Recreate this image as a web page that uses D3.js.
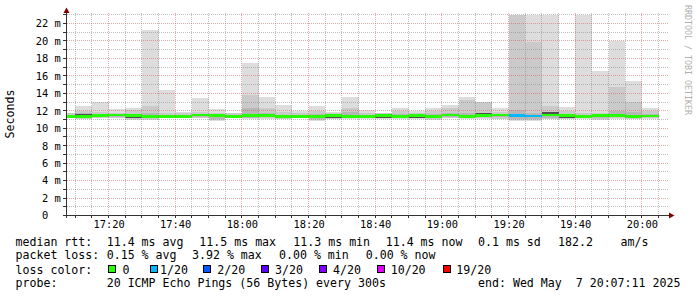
<!DOCTYPE html>
<html><head><meta charset="utf-8">
<script src="https://cdn.jsdelivr.net/npm/d3@7"></script>
<style>
html,body{margin:0;padding:0;background:#fff;}
svg{display:block;}
text{font-family:"DejaVu Sans Mono",monospace;fill:#000;}
</style></head><body>
<script>
// ---- data (5-minute SmokePing slots, values in ms) ----
const slotLabels = ["17:05","17:10","17:15","17:20","17:25","17:30","17:35","17:40","17:45","17:50","17:55","18:00","18:05","18:10","18:15","18:20","18:25","18:30","18:35","18:40","18:45","18:50","18:55","19:00","19:05","19:10","19:15","19:20","19:25","19:30","19:35","19:40","19:45","19:50","19:55","20:00"];
const rttMedian = [11.38,11.38,11.48,11.52,11.44,11.38,11.36,11.37,11.52,11.43, 11.38,11.43,11.42,11.38,11.37,11.38,11.43,11.35,11.38,11.43, 11.35,11.45,11.38,11.52,11.39,11.43,11.52,11.43,11.40,11.52, 11.43,11.38,11.42,11.43,11.35,11.40];
const rttMax    = [11.80,12.55,13.00,12.20,12.35,21.27,14.43,11.85,13.50,12.25, 11.80,17.49,13.55,12.66,11.95,12.55,11.90,13.60,12.10,11.80, 12.35,11.95,12.35,12.66,13.55,13.05,12.35,26.80,24.90,25.60, 12.44,24.10,16.60,20.00,15.42,12.36];
const rttHi     = [11.70,11.98,11.83,11.80,12.05,12.55,11.80,11.70,11.85,11.80, 11.70,13.80,12.36,11.90,11.75,11.95,11.80,12.36,11.80,11.70, 11.95,11.75,11.95,12.30,13.20,12.95,11.85,25.30,19.90,12.55, 11.95,11.75,11.80,14.77,13.00,11.95];
const rttUpper  = [11.50,11.70,11.60,11.62,11.60,11.70,11.55,11.50,11.65,11.55, 11.50,12.30,11.70,11.55,11.50,11.60,11.55,11.90,11.55,11.55, 11.60,11.55,11.60,11.70,11.80,11.75,11.65,12.10,11.70,11.85, 11.60,11.50,11.55,11.95,11.85,11.60];
const coreHi    = [11.46,11.62,11.56,11.60,11.52,11.46,11.57,11.56,11.60,11.51, 11.46,11.68,11.50,11.46,11.45,11.46,11.51,11.56,11.46,11.51, 11.56,11.53,11.46,11.60,11.47,11.71,11.60,11.51,11.48,11.82, 11.51,11.46,11.50,11.51,11.56,11.48];
const coreLo    = [11.30,11.30,11.40,11.44,11.21,11.30,11.28,11.29,11.44,11.35, 11.30,11.35,11.34,11.30,11.29,11.30,11.21,11.27,11.30,11.21, 11.27,11.23,11.16,11.44,11.31,11.35,11.44,11.35,11.32,11.44, 11.21,11.30,11.34,11.35,11.27,11.32];
const rttLower  = [11.26,11.20,11.28,11.30,11.16,11.14,11.24,11.25,11.30,11.10, 11.26,11.22,11.24,11.20,11.26,11.10,11.16,11.20,11.22,11.18, 11.22,11.20,11.12,11.30,11.24,11.26,11.24,11.10,11.10,11.22, 11.16,11.24,11.14,11.24,11.18,11.24];
const rttLo     = [11.20,11.10,11.20,11.20,11.04,11.02,11.20,11.20,11.20,10.97, 11.20,11.14,11.17,11.10,11.20,10.97,11.10,11.14,11.14,11.12, 11.17,11.14,11.06,11.20,11.17,11.17,11.10,10.97,10.97,11.10, 11.10,11.17,11.04,11.17,11.10,11.17];
const rttMin    = [11.14,11.02,11.14,11.14,10.94,10.94,11.14,11.14,11.14,10.87, 11.14,11.06,11.10,11.02,11.14,10.87,11.04,11.06,11.06,11.06, 11.10,11.08,11.00,11.14,11.10,11.10,11.02,10.87,10.87,11.02, 11.04,11.10,10.94,11.10,11.02,11.10];
const lossCount = [0,0,0,0,0,0,0,0,0,0, 0,0,0,0,0,0,0,0,0,0, 0,0,0,0,0,0,0,1,1,0, 0,0,0,0,0,0];

const lossLegendLabels = ["0","1/20","2/20","3/20","4/20","10/20","19/20"];
const lossLegendCounts = [0,1,2,3,4,10,19];
const lossLegendColors = ["#26ff00","#00b8ff","#0059ff","#5e00ff","#7e00ff","#dd00ff","#ff0000"];

const xTickLabels = ["17:20","17:40","18:00","18:20","18:40","19:00","19:20","19:40","20:00"];
const yTickValues = [0,2,4,6,8,10,12,14,16,18,20,22];
const yTickLabels = ["0\u00a0\u00a0","2 m","4 m","6 m","8 m","10 m","12 m","14 m","16 m","18 m","20 m","22 m"];

const legendRtt  = ["11.4 ms avg","11.5 ms max","11.3 ms min","11.4 ms now","0.1 ms sd","182.2","am/s"];
const legendLoss = ["0.15 % avg","3.92 % max","0.00 % min","0.00 % now"];
const probeText = "20 ICMP Echo Pings (56 Bytes) every 300s";
const endText = "end: Wed May \u00a07 20:07:11 2025";
const stepSeconds = 300;

// ---- setup ----
const W = 697, H = 297;
const tAt = (s, sec=0) => { const [h,m] = s.split(":").map(Number); return new Date(2025,4,7,h,m,sec); };
const x = d3.scaleTime().domain([tAt("17:07",11), tAt("20:07",11)]).range([65.8, 665.8]);
const y = d3.scaleLinear().domain([0, 23]).range([215.5, 14.8]);
const px = v => Math.floor(v) + 0.5;

const svg = d3.select("body").append("svg").attr("width", W).attr("height", H);
svg.append("rect").attr("width", W).attr("height", H).attr("fill", "#fff");
svg.append("defs").append("clipPath").attr("id","clip")
  .append("rect").attr("x",66).attr("y",15).attr("width",600).attr("height",200.5);

const plot = svg.append("g").attr("clip-path","url(#clip)").attr("shape-rendering","crispEdges");
const slots = slotLabels.map((s,i) => ({i, t0: tAt(s), t1: new Date(tAt(s).getTime() + stepSeconds*1000)}));

const layers = [
  {lo: rttMin,   hi: rttMax,   c: "#dddddd"},
  {lo: rttLo,    hi: rttHi,    c: "#cacaca"},
  {lo: rttLower, hi: rttUpper, c: "#b7b7b7"},
  {lo: coreLo,   hi: coreHi,   c: "#505050"}
];
layers.forEach(L => {
  plot.append("g").selectAll("rect").data(slots).join("rect")
    .attr("x", d => Math.round(x(d.t0)))
    .attr("width", d => Math.round(x(d.t1)) - Math.round(x(d.t0)))
    .attr("y", d => Math.round(y(L.hi[d.i])))
    .attr("height", d => Math.round(y(L.lo[d.i])) - Math.round(y(L.hi[d.i])))
    .attr("fill", L.c);
});
const lossColor = n => lossLegendColors[lossLegendCounts.filter(c => c <= n).length - 1];
const halfBand = 0.16;
plot.append("g").selectAll("rect").data(slots).join("rect")
  .attr("x", d => Math.round(x(d.t0)))
  .attr("width", d => Math.round(x(d.t1)) - Math.round(x(d.t0)))
  .attr("y", d => Math.round(y(rttMedian[d.i] + halfBand)))
  .attr("height", d => Math.round(y(rttMedian[d.i] - halfBand)) - Math.round(y(rttMedian[d.i] + halfBand)))
  .attr("fill", d => lossColor(lossCount[d.i]));

// ---- grid ----
const grid = svg.append("g");
const minorT = d3.timeMinute.every(5).range(x.domain()[0], x.domain()[1]);
const majorT = d3.timeMinute.every(20).range(x.domain()[0], x.domain()[1]);
const isMajorT = t => t.getMinutes() % 20 === 0;
const minorColor = "rgba(130,130,130,0.5)", majorColor = "rgba(222,80,80,0.5)";
grid.selectAll("line.vmin").data(minorT.filter(t => !isMajorT(t))).join("line")
  .attr("x1", t => px(x(t))).attr("x2", t => px(x(t))).attr("y1", 13).attr("y2", 215)
  .attr("stroke", minorColor).attr("stroke-dasharray","1,1");
grid.selectAll("line.vmaj").data(majorT).join("line")
  .attr("x1", t => px(x(t))).attr("x2", t => px(x(t))).attr("y1", 13).attr("y2", 215)
  .attr("stroke", majorColor).attr("stroke-dasharray","1,1");
const yMinor = d3.range(1, 24);
grid.selectAll("line.h").data(yMinor).join("line")
  .attr("x1", 67).attr("x2", 669).attr("y1", v => px(y(v))).attr("y2", v => px(y(v)))
  .attr("stroke", v => v % 2 === 0 ? majorColor : minorColor).attr("stroke-dasharray","1,1");

// ---- axes ----
const ax = svg.append("g").attr("shape-rendering","crispEdges");
ax.append("line").attr("x1",63).attr("x2",669).attr("y1",215.5).attr("y2",215.5).attr("stroke","#333");
ax.append("line").attr("x1",66.5).attr("x2",66.5).attr("y1",218).attr("y2",12).attr("stroke","#333");
ax.selectAll("line.xt").data(minorT).join("line")
  .attr("x1", t => px(x(t))).attr("x2", t => px(x(t))).attr("y1", 215).attr("y2", 218).attr("stroke","#333");
ax.selectAll("line.yt").data(yMinor).join("line")
  .attr("x1", 63).attr("x2", 67).attr("y1", v => px(y(v))).attr("y2", v => px(y(v))).attr("stroke","#333");
svg.append("path").attr("d","M63.5,13L69.5,13L66.5,7.5Z").attr("fill","#7f0000");
svg.append("path").attr("d","M669,212.5L669,218.5L674.5,215.5Z").attr("fill","#7f0000");

// tick labels via d3 axes
const xAxis = d3.axisBottom(x).tickValues(xTickLabels.map(s => tAt(s)))
  .tickFormat(d3.timeFormat("%H:%M")).tickSize(0).tickPadding(5.2);
const gx = svg.append("g").attr("transform","translate(0,215.5)").call(xAxis);
gx.select(".domain").remove();
gx.selectAll("text").attr("font-family","DejaVu Sans Mono").attr("font-size","10.4px").attr("fill","#000");

const yAxis = d3.axisLeft(y).tickValues(yTickValues)
  .tickFormat((v,i) => yTickLabels[i]).tickSize(0).tickPadding(0);
const gy = svg.append("g").attr("transform","translate(60.8,0)").call(yAxis);
gy.select(".domain").remove();
gy.selectAll("text").attr("font-family","DejaVu Sans Mono").attr("font-size","10.4px").attr("fill","#000");

// titles
svg.append("text").attr("transform","translate(14.3,114) rotate(-90)").attr("text-anchor","middle")
  .attr("font-size","11.6px").text("Seconds");
svg.append("text").attr("transform","translate(685,5) rotate(90)").attr("text-anchor","start")
  .attr("font-size","8.3px").style("fill","#b0b0b0").text("RRDTOOL / TOBI OETIKER");

// ---- legend ----
const lg = svg.append("g").attr("font-size","11.6px");
const put = (tx, ty, s) => lg.append("text").attr("x", tx).attr("y", ty).text(s);
const r1 = 246, r2 = 258.6, r3 = 273.6, r4 = 286.5;
put(15.5, r1, "median rtt:");
[106.7,199.3,293.3,385.7,478,558,620.5].forEach((tx,i) => put(tx, r1, legendRtt[i]));
put(15.5, r2, "packet loss:");
[106.7,192,279,365.7].forEach((tx,i) => put(tx, r2, legendLoss[i]));
put(15.5, r3, "loss color:");
const boxX = [108,150,203,261,319.3,377.3,442.7];
const labX = [122.5,160,217.3,275,333,390.7,456.3];
lossLegendLabels.forEach((l,i) => {
  lg.append("rect").attr("x", Math.round(boxX[i]) + 0.5).attr("y", 265.5).attr("width", 7).attr("height", 7)
    .attr("fill", lossLegendColors[i]).attr("stroke","#000").attr("stroke-width",1);
  put(labX[i], r3, l);
});
put(15.5, r4, "probe:");
put(106.7, r4, probeText);
put(478, r4, endText);
</script>
</body></html>
